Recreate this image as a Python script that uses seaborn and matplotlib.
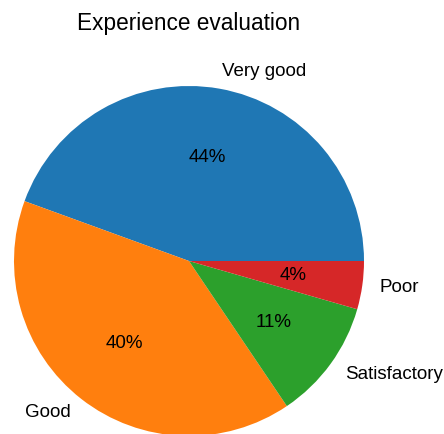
import matplotlib
matplotlib.use("Agg")
import matplotlib.pyplot as plt
import seaborn as sns

# Survey responses per rating
categories = ["Very good", "Good", "Satisfactory", "Poor"]
counts = [20, 18, 5, 2]

sns.set_style("white")
plt.rcParams["font.family"] = ["Liberation Sans", "DejaVu Sans"]
plt.rcParams["text.color"] = "black"

W, H = 444, 434
fig = plt.figure(figsize=(W / 100, H / 100), dpi=100)

# pie centre and radius in pixels
cx, cy_top, r = 189, 261, 175
cy = H - cy_top
ax = fig.add_axes([0, 0, 2 * cx / W, 1])

colors = sns.color_palette("tab10", len(categories))
wedges, texts, autotexts = ax.pie(
    counts,
    labels=categories,
    colors=colors,
    autopct="%1.0f%%",
    textprops={"fontsize": 13.5, "color": "black"},
    wedgeprops={"linewidth": 0, "edgecolor": "none"},
)
ax.set_xlim(-cx / r, cx / r)
ax.set_ylim(-cy / r, (H - cy) / r)
ax.set_aspect("auto")

ax.set_title("Experience evaluation", fontsize=16.3, color="black",
             y=(H - 30) / H, pad=0)

fig.savefig("out.png", dpi=100)
